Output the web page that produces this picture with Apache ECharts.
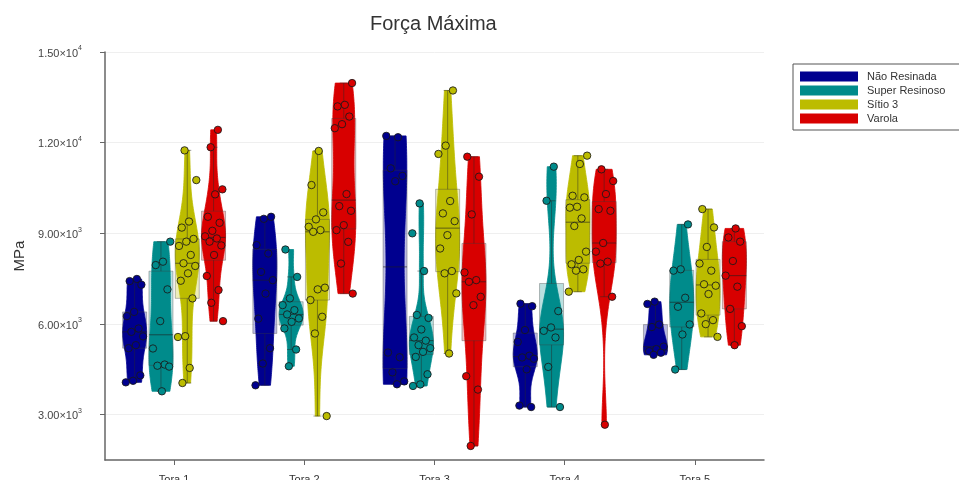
<!DOCTYPE html>
<html>
<head>
<meta charset="utf-8">
<script src="https://cdn.jsdelivr.net/npm/echarts@6/dist/echarts.min.js"></script>
<style>
  html, body { margin: 0; padding: 0; background: #fff; }
  #chart { width: 959px; height: 480px; }
</style>
</head>
<body>
<div id="chart"></div>
<script>
// Categories (logs) and groups (wood types)
const categories = ['Tora 1', 'Tora 2', 'Tora 3', 'Tora 4', 'Tora 5'];
const groupNames = ['Não Resinada', 'Super Resinoso', 'Sítio 3', 'Varola'];

// Maximum force per specimen, one list per log (MPa)
const naoResinada = [
  [7490, 7420, 7300, 6400, 6260, 5850, 5740, 5590, 5300, 5200, 4300, 4120, 4070],
  [9547, 9480, 8610, 8333, 7723, 7450, 7006, 6177, 5200, 4692, 3972],
  [12224, 12180, 11150, 10900, 10723, 5056, 4900, 4400, 4100, 4005],
  [6674, 6590, 5800, 5407, 4950, 4893, 4850, 4500, 3300, 3252],
  [6740, 6664, 5980, 5900, 5250, 5170, 5100, 5050, 4980]
];
const superResinoso = [
  [8725, 8062, 7950, 7146, 6095, 5190, 4658, 4620, 4590, 3773],
  [8465, 7558, 6848, 6625, 6459, 6317, 6184, 6072, 5853, 5156, 4602],
  [9991, 9000, 7752, 6300, 6200, 5819, 5554, 5450, 5300, 5200, 5078, 4911, 4337, 4000, 3950],
  [11206, 10078, 6427, 5886, 5774, 5554, 4581, 3252],
  [9295, 7810, 7765, 6869, 6570, 5985, 5653, 4493]
];
const sitio3 = [
  [11745, 10762, 9390, 9190, 8815, 8725, 8583, 8285, 8010, 7920, 7677, 7431, 6848, 5597, 5570, 4546, 4048],
  [11726, 10598, 9693, 9461, 9216, 9106, 9050, 7202, 7146, 6792, 6239, 5686, 2954],
  [13727, 11902, 11627, 10068, 9660, 9404, 8940, 8498, 7752, 7677, 7013, 5023],
  [11570, 11295, 10243, 10190, 9879, 9850, 9494, 9243, 8394, 8119, 7976, 7810, 7765, 7069],
  [9802, 9195, 8549, 8000, 7765, 7315, 7268, 6992, 6350, 6128, 5995, 5574]
];
const varola = [
  [12424, 11849, 10456, 10290, 9548, 9349, 9084, 8900, 8830, 8725, 8600, 8285, 7588, 7123, 6702, 6095],
  [13972, 13252, 13200, 12864, 12612, 12479, 10300, 9900, 9746, 9271, 9106, 8718, 8000, 7006],
  [11536, 10874, 9626, 7706, 7452, 7397, 6900, 6624, 4272, 3830, 1965],
  [11118, 10730, 10300, 9802, 9746, 8680, 8394, 8062, 8000, 6902, 2668],
  [9162, 8864, 8725, 8085, 7600, 7235, 6500, 5929, 5299]
];

// Y axis ticks
const yTicks = [3000, 6000, 9000, 12000, 15000];

const groupValues = [naoResinada, superResinoso, sitio3, varola];
const groupColors = ['#00008f', '#008b8b', '#bcbc00', '#d80000'];
const FONT = '"Liberation Sans", Arial, Helvetica, sans-serif';

function quantile(sorted, p) {
  const idx = (sorted.length - 1) * p;
  const lo = Math.floor(idx), hi = Math.ceil(idx);
  return sorted[lo] + (sorted[hi] - sorted[lo]) * (idx - lo);
}

// Box statistics and a Gaussian kernel density estimate cut at the data range
function summarize(values) {
  const s = values.slice().sort((a, b) => a - b);
  const n = s.length;
  const mean = s.reduce((a, b) => a + b, 0) / n;
  const sd = Math.sqrt(s.reduce((a, b) => a + (b - mean) * (b - mean), 0) / (n - 1));
  const q1 = quantile(s, 0.25), q3 = quantile(s, 0.75), med = quantile(s, 0.5);
  const iqr = q3 - q1;
  let spread = Math.min(sd, iqr / 1.349);
  if (!(spread > 0)) spread = sd;
  const bw = 1.059 * spread * Math.pow(n, -0.2);
  const lo = s[0], hi = s[n - 1];
  const steps = 80;
  const kde = [];
  let maxD = 0;
  for (let k = 0; k <= steps; k++) {
    const v = lo + (hi - lo) * k / steps;
    let d = 0;
    for (const x of s) { const z = (v - x) / bw; d += Math.exp(-0.5 * z * z); }
    kde.push([v, d]);
    if (d > maxD) maxD = d;
  }
  kde.forEach(p => { p[1] /= maxD; });
  const fenceLo = q1 - 1.5 * iqr, fenceHi = q3 + 1.5 * iqr;
  const wLo = s.find(v => v >= fenceLo);
  const wHi = s.slice().reverse().find(v => v <= fenceHi);
  return { sorted: s, min: lo, max: hi, q1, q3, med, kde, wLo, wHi };
}

const summaries = groupValues.map(g => g.map(summarize));

function makeRender(g) {
  const color = groupColors[g];
  return function (params, api) {
    const c = api.value(0);
    const st = summaries[g][c];
    const raw = groupValues[g][c];
    const unit = api.size([1, 0])[0];
    const cx = api.coord([c, st.med])[0] + (g - 1.5) * unit * 0.202;
    const yOf = v => api.coord([c, v])[1];
    const halfW = 12, boxHalf = 12;
    const children = [];

    // translucent box behind the violin
    children.push({
      type: 'rect',
      shape: { x: cx - boxHalf, y: yOf(st.q3), width: boxHalf * 2, height: yOf(st.q1) - yOf(st.q3) },
      style: { fill: color, opacity: 0.27 }
    });

    // violin body
    const pts = [];
    st.kde.forEach(([v, d]) => pts.push([cx + d * halfW, yOf(v)]));
    for (let k = st.kde.length - 1; k >= 0; k--) {
      const [v, d] = st.kde[k];
      pts.push([cx - d * halfW, yOf(v)]);
    }
    children.push({
      type: 'polygon',
      shape: { points: pts },
      style: { fill: color, stroke: color, lineWidth: 0.8 }
    });

    // box outline, median and whiskers
    const lineStyle = { stroke: 'rgba(40,40,40,0.45)', lineWidth: 1, fill: null };
    children.push({
      type: 'rect',
      shape: { x: cx - boxHalf, y: yOf(st.q3), width: boxHalf * 2, height: yOf(st.q1) - yOf(st.q3) },
      style: { fill: null, stroke: 'rgba(60,60,60,0.35)', lineWidth: 1 }
    });
    children.push({
      type: 'line',
      shape: { x1: cx - boxHalf, y1: yOf(st.med), x2: cx + boxHalf, y2: yOf(st.med) },
      style: { stroke: 'rgba(30,30,30,0.6)', lineWidth: 1 }
    });
    children.push({ type: 'line', shape: { x1: cx, y1: yOf(st.q3), x2: cx, y2: yOf(st.wHi) }, style: lineStyle });
    children.push({ type: 'line', shape: { x1: cx, y1: yOf(st.q1), x2: cx, y2: yOf(st.wLo) }, style: lineStyle });
    children.push({ type: 'line', shape: { x1: cx - 4, y1: yOf(st.wHi), x2: cx + 4, y2: yOf(st.wHi) }, style: lineStyle });
    children.push({ type: 'line', shape: { x1: cx - 4, y1: yOf(st.wLo), x2: cx + 4, y2: yOf(st.wLo) }, style: lineStyle });

    // individual specimens, spread sideways in a fixed pattern
    raw.forEach((v, k) => {
      const frac = ((k + 1) * 0.6180339887 + g * 0.37 + c * 0.21) % 1;
      const dx = (frac * 2 - 1) * 9.5;
      children.push({
        type: 'circle',
        shape: { cx: cx + dx, cy: yOf(v), r: 3.7 },
        style: { fill: color, stroke: 'rgba(25,25,25,0.85)', lineWidth: 1 }
      });
    });

    return { type: 'group', children };
  };
}

const chart = echarts.init(document.getElementById('chart'), null, { renderer: 'canvas' });

const series = groupNames.map((name, g) => ({
  name,
  type: 'custom',
  renderItem: makeRender(g),
  itemStyle: { color: groupColors[g] },
  encode: { x: 0, y: [1, 2] },
  data: categories.map((_, c) => [c, summaries[g][c].min, summaries[g][c].max]),
  clip: false,
  silent: true
}));

chart.setOption({
  animation: false,
  backgroundColor: '#fff',
  textStyle: { fontFamily: FONT },
  title: {
    text: 'Força Máxima',
    left: 365,
    top: 9,
    textStyle: { fontSize: 20, fontWeight: 'normal', color: '#333', fontFamily: FONT }
  },
  legend: {
    orient: 'vertical',
    left: 793,
    top: 64,
    data: groupNames.map(n => ({ name: n, icon: 'rect' })),
    itemWidth: 58,
    itemHeight: 10,
    itemGap: 3,
    padding: [7, 60, 6, 7],
    borderColor: '#555',
    borderWidth: 1,
    selectedMode: false,
    textStyle: { fontSize: 11, color: '#333', fontFamily: FONT, padding: [0, 0, 0, 4] }
  },
  grid: { left: 105, right: 195, top: 52, bottom: 20, outerBoundsMode: 'none', containLabel: false },
  xAxis: {
    type: 'value',
    min: -0.5 - 4 / 130,
    max: 4.5 + 4 / 130,
    axisLine: { show: true, onZero: false, lineStyle: { color: '#666', width: 1.5 } },
    axisTick: { show: true, customValues: categories.map((_, i) => i), length: 5, lineStyle: { color: '#666' } },
    axisLabel: {
      customValues: categories.map((_, i) => i),
      formatter: v => categories[Math.round(v)],
      margin: 14,
      fontSize: 11,
      color: '#333',
      fontFamily: FONT
    },
    splitLine: { show: false }
  },
  yAxis: {
    type: 'value',
    min: 1500,
    max: 15000,
    name: 'MPa',
    nameLocation: 'middle',
    nameGap: 76,
    nameTextStyle: { fontSize: 15, color: '#333', fontFamily: FONT },
    axisLine: { show: true, onZero: false, lineStyle: { color: '#666', width: 1.5 } },
    axisTick: { show: true, customValues: yTicks, length: 5, lineStyle: { color: '#666' } },
    axisLabel: {
      customValues: yTicks,
      margin: 23,
      formatter: v => {
        const e = Math.floor(Math.log10(v));
        const m = (v / Math.pow(10, e)).toFixed(2);
        return '{m|' + m + '×10}{e|' + e + '}';
      },
      rich: {
        m: { fontSize: 11, color: '#444', fontFamily: FONT, lineHeight: 14, verticalAlign: 'bottom' },
        e: { fontSize: 7, color: '#444', fontFamily: FONT, lineHeight: 8, verticalAlign: 'top' }
      }
    },
    splitLine: { show: true, lineStyle: { color: '#efefef', width: 1 } }
  },
  series
});
</script>
</body>
</html>
